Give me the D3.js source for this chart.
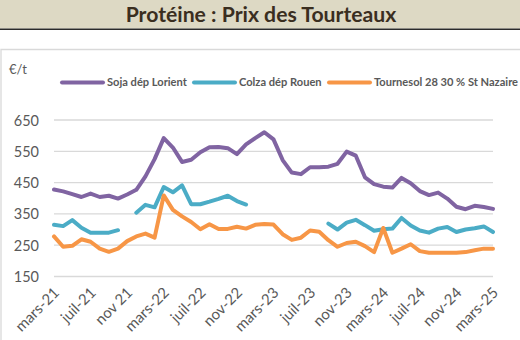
<!DOCTYPE html>
<html>
<head>
<meta charset="utf-8">
<script src="https://cdn.jsdelivr.net/npm/d3@7"></script>
<style>
  html, body { margin: 0; padding: 0; background: #ffffff; }
  svg { display: block; }
</style>
</head>
<body>
<svg id="chart" width="520" height="340"></svg>
<script>
// ---- DATA ----
const months = [
  "2021-03","2021-04","2021-05","2021-06","2021-07","2021-08","2021-09","2021-10","2021-11","2021-12",
  "2022-01","2022-02","2022-03","2022-04","2022-05","2022-06","2022-07","2022-08","2022-09","2022-10",
  "2022-11","2022-12","2023-01","2023-02","2023-03","2023-04","2023-05","2023-06","2023-07","2023-08",
  "2023-09","2023-10","2023-11","2023-12","2024-01","2024-02","2024-03","2024-04","2024-05","2024-06",
  "2024-07","2024-08","2024-09","2024-10","2024-11","2024-12","2025-01","2025-02","2025-03"
];
const tickMonths = ["2021-03","2021-07","2021-11","2022-03","2022-07","2022-11","2023-03","2023-07","2023-11","2024-03","2024-07","2024-11","2025-03"];
const tickLabels = ["mars-21","juil-21","nov 21","mars-22","juil-22","nov-22","mars-23","juil-23","nov-23","mars-24","juil-24","nov-24","mars-25"];
const yTicks = [150, 250, 350, 450, 550, 650];

const seriesNames = ["Soja dép Lorient", "Colza dép Rouen", "Tournesol 28 30 % St Nazaire"];
const soja = [428,422,413,404,415,404,408,399,412,427,470,525,592,562,516,523,547,563,564,560,541,572,592,611,588,522,482,477,499,499,501,510,549,536,467,445,437,434,465,448,423,410,418,399,373,365,376,372,366];
const colza = [315,311,330,306,290,290,290,298,null,354,379,371,436,419,441,381,381,389,398,408,391,380,null,null,null,null,null,null,null,null,319,300,322,331,314,296,301,303,337,313,297,290,303,308,292,300,304,310,292];
const tournesol = [278,245,248,269,261,239,229,239,263,278,287,274,409,363,342,324,301,317,302,302,309,303,315,318,316,285,267,274,297,293,266,245,257,261,247,228,305,226,239,253,231,226,226,226,226,228,234,239,239];
const seriesColors = ["#8064a2", "#4bacc6", "#f79646"];

// ---- DRAW ----
const svg = d3.select("#chart");
const font = "Lato, 'Open Sans', sans-serif";

// title band
svg.append("rect").attr("x", 0).attr("y", 0).attr("width", 520).attr("height", 28.5).attr("fill", "#ddd9c4");
svg.append("line").attr("x1", 0).attr("x2", 520).attr("y1", 29.2).attr("y2", 29.2).attr("stroke", "#2b2b2b").attr("stroke-width", 1.6);
svg.append("text").attr("x", 261).attr("y", 21.5).attr("text-anchor", "middle")
  .attr("font-family", font).attr("font-weight", 700).attr("font-size", 21.2)
  .attr("fill", "#3a2e1f").text("Protéine : Prix des Tourteaux");

// chart box
svg.append("path").attr("d", "M1,341 L1,49.5 L521,49.5").attr("fill", "none").attr("stroke", "#d9d9d9").attr("stroke-width", 1.3);

const x = d3.scalePoint().domain(months).range([54, 493]).padding(0);
const y = d3.scaleLinear().domain([150, 650]).range([276.5, 120]);

// gridlines
svg.append("g").selectAll("line").data(yTicks).join("line")
  .attr("x1", 54).attr("x2", 493)
  .attr("y1", d => y(d)).attr("y2", d => y(d))
  .attr("stroke", "#d9d9d9").attr("stroke-width", 1.3);

// y axis labels
const yAxis = d3.axisLeft(y).tickValues(yTicks).tickSize(0).tickPadding(0);
const gy = svg.append("g").attr("transform", "translate(39,0)").call(yAxis);
gy.select(".domain").remove();
gy.selectAll("text").attr("font-family", font).attr("font-size", 14.5).attr("fill", "#595959").attr("dy", "0.35em");

// x axis labels
const tickMap = new Map(tickMonths.map((m, i) => [m, tickLabels[i]]));
const xAxis = d3.axisBottom(x).tickValues(tickMonths).tickFormat(d => tickMap.get(d)).tickSize(0).tickPadding(0);
const gx = svg.append("g").attr("transform", "translate(2,290)").call(xAxis);
gx.select(".domain").remove();
gx.selectAll("text")
  .attr("font-family", font).attr("font-size", 15).attr("fill", "#595959")
  .attr("text-anchor", "end").attr("dy", "0.35em").attr("dx", 0).attr("y", 0)
  .attr("transform", "rotate(-45)");

// lines
const allSeries = [soja, colza, tournesol];
const line = d3.line()
  .defined(d => d.v != null)
  .x(d => x(d.m)).y(d => y(d.v));
allSeries.forEach((s, k) => {
  svg.append("path")
    .datum(s.map((v, i) => ({ m: months[i], v })))
    .attr("fill", "none").attr("stroke", seriesColors[k]).attr("stroke-width", 4)
    .attr("stroke-linejoin", "round").attr("stroke-linecap", "round")
    .attr("d", line);
});

// legend
svg.append("text").attr("x", 9).attr("y", 74).attr("font-family", font).attr("font-size", 13)
  .attr("fill", "#595959").text("€/t");
const legendX = [62, 194, 329];
seriesNames.forEach((name, k) => {
  const g = svg.append("g").attr("transform", `translate(${legendX[k]},82.5)`);
  g.append("line").attr("x1", 0).attr("x2", 41).attr("y1", 0).attr("y2", 0)
    .attr("stroke", seriesColors[k]).attr("stroke-width", 4).attr("stroke-linecap", "round");
  g.append("text").attr("x", 45).attr("y", 0).attr("dy", "0.35em")
    .attr("font-family", font).attr("font-weight", 700).attr("font-size", 11.1)
    .attr("fill", "#595959").text(name);
});
</script>
</body>
</html>
